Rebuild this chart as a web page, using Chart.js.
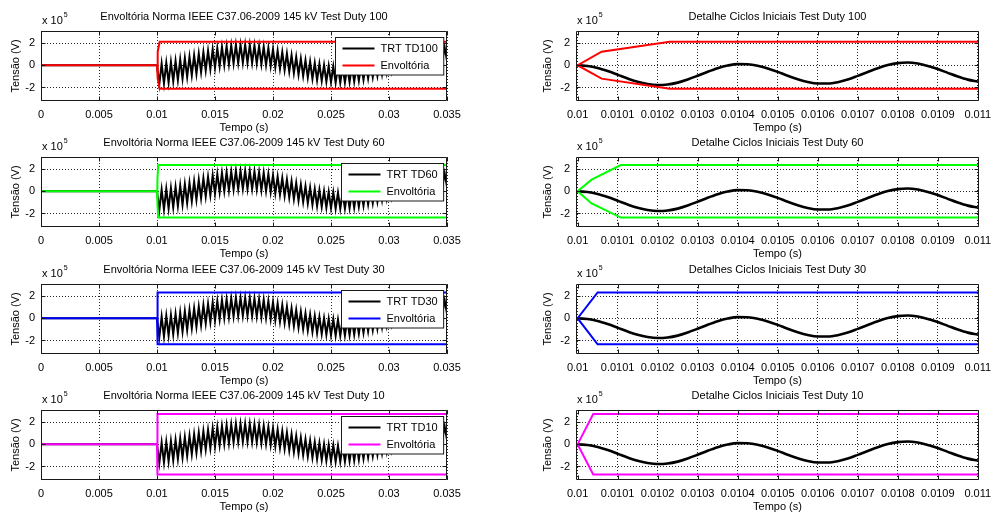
<!DOCTYPE html>
<html>
<head>
<meta charset="utf-8">
<script src="https://cdn.jsdelivr.net/npm/chart.js@4.4.0/dist/chart.umd.min.js"></script>
<style>
  html, body { margin: 0; padding: 0; background: #fff; }
  #fig { position: relative; width: 991px; height: 513px; overflow: hidden; background: #fff; }
  #fig canvas { position: absolute; }
</style>
</head>
<body>
<div id="fig"></div>
<script>
/* TRT x envoltória IEEE C37.06-2009, 145 kV — 4 test duties */

// ── Data (tensão em unidades de 10^5 V) ──
const duties = ["100", "60", "30", "10"];
const envColors = ["#ff0000", "#00ff00", "#0000ff", "#ff00ff"];
const fullTitles = [
  "Envoltória Norma IEEE C37.06-2009 145 kV Test Duty 100",
  "Envoltória Norma IEEE C37.06-2009 145 kV Test Duty 60",
  "Envoltória Norma IEEE C37.06-2009 145 kV Test Duty 30",
  "Envoltória Norma IEEE C37.06-2009 145 kV Test Duty 10"
];
const detailTitles = [
  "Detalhe Ciclos Iniciais Test Duty 100",
  "Detalhe Ciclos Iniciais Test Duty 60",
  "Detalhes Ciclos Iniciais Test Duty 30",
  "Detalhe Ciclos Iniciais Test Duty 10"
];
const trvLabels = ["TRT TD100", "TRT TD60", "TRT TD30", "TRT TD10"];
const envLabel = "Envoltória";

// TRT, janela completa (picos/vales da oscilação)
const trvTime = [0,
  0.0100, 0.0102, 0.0104, 0.0106, 0.0108, 0.0110, 0.0112, 0.0114, 0.0116, 0.0118,
  0.0120, 0.0122, 0.0124, 0.0126, 0.0128, 0.0130, 0.0132, 0.0134, 0.0136, 0.0138,
  0.0140, 0.0142, 0.0144, 0.0146, 0.0148, 0.0150, 0.0152, 0.0154, 0.0156, 0.0158,
  0.0160, 0.0162, 0.0164, 0.0166, 0.0168, 0.0170, 0.0172, 0.0174, 0.0176, 0.0178,
  0.0180, 0.0182, 0.0184, 0.0186, 0.0188, 0.0190, 0.0192, 0.0194, 0.0196, 0.0198,
  0.0200, 0.0202, 0.0204, 0.0206, 0.0208, 0.0210, 0.0212, 0.0214, 0.0216, 0.0218,
  0.0220, 0.0222, 0.0224, 0.0226, 0.0228, 0.0230, 0.0232, 0.0234, 0.0236, 0.0238,
  0.0240, 0.0242, 0.0244, 0.0246, 0.0248, 0.0250, 0.0252, 0.0254, 0.0256, 0.0258,
  0.0260, 0.0262, 0.0264, 0.0266, 0.0268, 0.0270, 0.0272, 0.0274, 0.0276, 0.0278,
  0.0280, 0.0282, 0.0284, 0.0286, 0.0288, 0.0290, 0.0292, 0.0294, 0.0296, 0.0298,
  0.0300, 0.0302, 0.0304, 0.0306, 0.0308, 0.0310, 0.0312, 0.0314, 0.0316, 0.0318,
  0.0320, 0.0322, 0.0324, 0.0326, 0.0328, 0.0330, 0.0332, 0.0334, 0.0336, 0.0338,
  0.0340, 0.0342, 0.0344, 0.0346, 0.0348, 0.0350
];
const trvVolt = [0,
  0.00, -1.70, 0.16, -1.63, 0.23, -1.55, 0.31, -1.44, 0.41, -1.33,
  0.53, -1.20, 0.65, -1.06, 0.78, -0.91, 0.92, -0.76, 1.06, -0.62,
  1.19, -0.47, 1.32, -0.34, 1.45, -0.21, 1.56, -0.09, 1.66, 0.01,
  1.74, 0.09, 1.80, 0.16, 1.85, 0.20, 1.87, 0.22, 1.87, 0.23,
  1.85, 0.21, 1.81, 0.16, 1.75, 0.10, 1.67, 0.03, 1.57, -0.07,
  1.46, -0.18, 1.33, -0.30, 1.20, -0.43, 1.06, -0.57, 0.91, -0.70,
  0.76, -0.84, 0.61, -0.97, 0.47, -1.10, 0.34, -1.22, 0.22, -1.32,
  0.12, -1.41, 0.03, -1.48, -0.04, -1.53, -0.09, -1.56, -0.12, -1.57,
  -0.13, -1.56, -0.12, -1.52, -0.09, -1.47, -0.03, -1.39, 0.04, -1.30,
  0.13, -1.19, 0.23, -1.07, 0.35, -0.94, 0.48, -0.80, 0.61, -0.65,
  0.75, -0.50, 0.89, -0.36, 1.02, -0.21, 1.15, -0.08, 1.27, 0.04,
  1.38, 0.16, 1.47, 0.25, 1.55, 0.33, 1.61, 0.39, 1.64, 0.42,
  1.66, 0.44, 1.65, 0.44, 1.63, 0.41
];

// TRT, detalhe do primeiro ms
const detTime = [0,
  0.010000, 0.010025, 0.010050, 0.010075, 0.010100, 0.010125, 0.010150, 0.010175,
  0.010200, 0.010225, 0.010250, 0.010275, 0.010300, 0.010325, 0.010350, 0.010375,
  0.010400, 0.010425, 0.010450, 0.010475, 0.010500, 0.010525, 0.010550, 0.010575,
  0.010600, 0.010625, 0.010650, 0.010675, 0.010700, 0.010725, 0.010750, 0.010775,
  0.010800, 0.010825, 0.010850, 0.010875, 0.010900, 0.010925, 0.010950, 0.010975,
  0.011000
];
const detVolt = [0,
  0.00, -0.06, -0.24, -0.52, -0.85, -1.19, -1.49, -1.69,
  -1.78, -1.73, -1.56, -1.28, -0.94, -0.58, -0.26, -0.02,
  0.11, 0.10, -0.03, -0.28, -0.59, -0.94, -1.25, -1.50,
  -1.64, -1.64, -1.52, -1.28, -0.95, -0.60, -0.26, 0.02,
  0.20, 0.25, 0.16, -0.05, -0.34, -0.68, -1.01, -1.29,
  -1.47
];

// envoltórias (superior / inferior)
const envTime = [
  [0, 0.0100, 0.010060, 0.010230, 0.0350],
  [0, 0.0100, 0.010035, 0.010108, 0.0350],
  [0, 0.0100, 0.010050, 0.0350],
  [0, 0.0100, 0.010039, 0.0350]
];
const envUpper = [
  [0, 0, 1.23, 2.12, 2.12],
  [0, 0, 1.05, 2.37, 2.37],
  [0, 0, 2.34, 2.34],
  [0, 0, 2.73, 2.73]
];
const envLower = [
  [0, 0, -1.20, -2.12, -2.12],
  [0, 0, -1.10, -2.37, -2.37],
  [0, 0, -2.34, -2.34],
  [0, 0, -2.73, -2.73]
];

// eixos
const xTicksFull = [0, 0.005, 0.01, 0.015, 0.02, 0.025, 0.03, 0.035];
const xLabelsFull = ["0", "0.005", "0.01", "0.015", "0.02", "0.025", "0.03", "0.035"];
const xTicksDet = [0.01, 0.0101, 0.0102, 0.0103, 0.0104, 0.0105, 0.0106, 0.0107, 0.0108, 0.0109, 0.011];
const xLabelsDet = ["0.01", "0.0101", "0.0102", "0.0103", "0.0104", "0.0105", "0.0106", "0.0107", "0.0108", "0.0109", "0.011"];
const yTicks = [-2, 0, 2];
const yLabels = ["-2", "0", "2"];

/* ── Style ── */
const FONT = '"Liberation Sans", Arial, Helvetica, sans-serif';
const TXT = "#000";
const GRID = "rgba(0,0,0,0.85)";
const ROW_H = 126.3;

const toXY = (xs, ys) => xs.map((v, i) => ({ x: v, y: ys[i] }));

/* ── MATLAB-like box, inner ticks, multiplier and legend ── */
const matlabAxes = {
  id: "matlabAxes",
  afterDatasetsDraw(chart, args, o) {
    const { ctx, chartArea: a, scales: { x, y } } = chart;
    const L = Math.round(a.left) + 0.5, R = Math.round(a.right) - 0.5;
    const T = Math.round(a.top) + 0.5, B = Math.round(a.bottom) - 0.5;
    ctx.save();
    ctx.strokeStyle = "#1a1a1a";
    ctx.lineWidth = 1;
    ctx.setLineDash([]);
    ctx.beginPath();
    ctx.rect(L, T, R - L, B - T);
    x.ticks.forEach(t => {
      const px = Math.round(x.getPixelForValue(t.value)) + 0.5;
      ctx.moveTo(px, B); ctx.lineTo(px, B - 4);
      ctx.moveTo(px, T); ctx.lineTo(px, T + 4);
    });
    y.ticks.forEach(t => {
      const py = Math.round(y.getPixelForValue(t.value)) + 0.5;
      ctx.moveTo(L, py); ctx.lineTo(L + 4, py);
      ctx.moveTo(R, py); ctx.lineTo(R - 4, py);
    });
    ctx.stroke();

    // x 10^5
    ctx.fillStyle = TXT;
    ctx.textBaseline = "middle";
    ctx.textAlign = "left";
    ctx.font = `11px ${FONT}`;
    const base = "x 10";
    ctx.fillText(base, a.left + 1, a.top - 10.5);
    const w = ctx.measureText(base).width;
    ctx.font = `7px ${FONT}`;
    ctx.fillText("5", a.left + 2 + w, a.top - 15.5);

    // legenda
    if (o.items) {
      ctx.font = `11px ${FONT}`;
      const tw = Math.max(...o.items.map(it => ctx.measureText(it.label).width));
      const bw = 7 + 32 + 6 + tw + 6, bh = 37.5;
      const bx = Math.round(a.right - 4 - bw) + 0.5, by = Math.round(a.top + 5.5) + 0.5;
      ctx.fillStyle = "#fff";
      ctx.fillRect(bx, by, bw, bh);
      ctx.strokeStyle = "#1a1a1a";
      ctx.strokeRect(bx, by, bw, bh);
      o.items.forEach((it, i) => {
        const ly = by + 11 + i * 17;
        ctx.strokeStyle = it.color;
        ctx.lineWidth = 2;
        ctx.beginPath();
        ctx.moveTo(bx + 7, ly); ctx.lineTo(bx + 39, ly);
        ctx.stroke();
        ctx.fillStyle = TXT;
        ctx.fillText(it.label, bx + 45, ly);
      });
    }
    ctx.restore();
  }
};

function panel(row, detail) {
  const cv = document.createElement("canvas");
  const left = detail ? 530 : 0;
  const width = detail ? 461 : 470;
  cv.width = width; cv.height = 135;
  cv.style.left = left + "px";
  cv.style.top = Math.round(row * ROW_H) + "px";
  document.getElementById("fig").appendChild(cv);

  const xv = detail ? xTicksDet : xTicksFull;
  const xl = detail ? xLabelsDet : xLabelsFull;
  const font = { family: FONT, size: 11 };

  const env = toXY(envTime[row], envUpper[row])
    .concat([{ x: 0.035, y: null }], toXY(envTime[row], envLower[row]));
  const trv = detail ? toXY(detTime, detVolt) : toXY(trvTime, trvVolt);

  return new Chart(cv, {
    type: "line",
    data: {
      datasets: [
        { label: envLabel, data: env, borderColor: envColors[row], borderWidth: 2,
          pointRadius: 0, tension: 0, order: 0 },
        { label: trvLabels[row], data: trv, borderColor: "#000", borderWidth: detail ? 2.6 : 2,
          pointRadius: 0, tension: 0, cubicInterpolationMode: detail ? "monotone" : "default", order: 1 }
      ]
    },
    options: {
      responsive: false,
      animation: false,
      devicePixelRatio: 1,
      events: [],
      layout: { padding: { left: 0, right: detail ? 12 : 23, top: 0, bottom: 0 } },
      plugins: {
        legend: { display: false },
        tooltip: { enabled: false },
        title: {
          display: true, fullSize: false,
          text: detail ? detailTitles[row] : fullTitles[row],
          color: TXT, font: { family: FONT, size: 11, weight: "normal" },
          padding: { top: 10, bottom: 7.8 }
        },
        matlabAxes: detail ? {} : {
          items: [{ label: trvLabels[row], color: "#000" }, { label: envLabel, color: envColors[row] }]
        }
      },
      scales: {
        x: {
          type: "linear",
          min: detail ? 0.009996 : 0,
          max: detail ? 0.011003 : 0.035,
          afterBuildTicks: s => { s.ticks = xv.map(v => ({ value: v })); },
          afterFit: s => { s.height = 34; s.paddingLeft = 0; s.paddingRight = 0; },
          ticks: { autoSkip: false, maxRotation: 0, color: TXT, font, padding: 7,
                   callback: (v, i) => xl[i] },
          grid: { color: GRID, lineWidth: 1, drawTicks: false },
          border: { display: false, dash: [1, 2] },
          title: { display: true, text: "Tempo (s)", color: TXT, font, padding: { top: 0, bottom: 0 } }
        },
        y: {
          type: "linear",
          min: -3.22, max: 3.1,
          afterBuildTicks: s => { s.ticks = yTicks.map(v => ({ value: v })); },
          afterFit: s => { s.width = detail ? 46 : 41; s.paddingTop = 0; s.paddingBottom = 0; },
          ticks: { color: TXT, font, padding: 6, callback: (v, i) => yLabels[i] },
          grid: { color: GRID, lineWidth: 1, drawTicks: false },
          border: { display: false, dash: [1, 2] },
          title: { display: true, text: "Tensão (V)", color: TXT, font,
                   padding: { top: detail ? 11.4 : 9, bottom: 0 } }
        }
      }
    },
    plugins: [matlabAxes]
  });
}

duties.forEach((d, row) => { panel(row, false); panel(row, true); });
</script>
</body>
</html>
